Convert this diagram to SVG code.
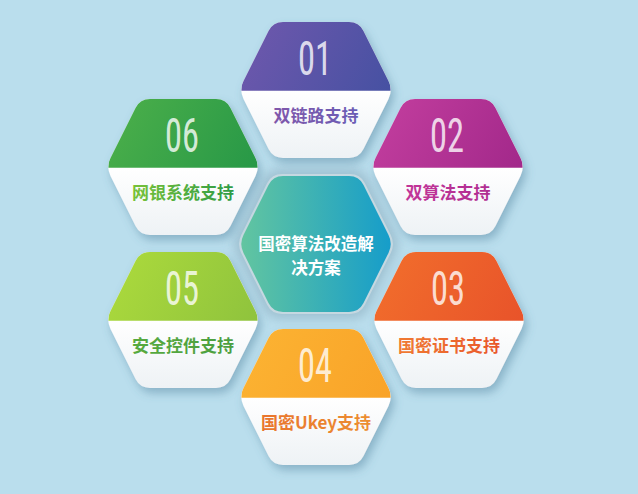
<svg xmlns="http://www.w3.org/2000/svg" xmlns:xlink="http://www.w3.org/1999/xlink" width="638" height="494" viewBox="0 0 638 494">
  <defs>
    <path id="hex" d="M -33,-68 L 33,-68 Q 43,-68 47.5,-59.1 L 72.5,-8.9 Q 77,0 72.5,8.9 L 47.5,59.1 Q 43,68 33,68 L -33,68 Q -43,68 -47.5,59.1 L -72.5,8.9 Q -77,0 -72.5,-8.9 L -47.5,-59.1 Q -43,-68 -33,-68 Z"/>
    <clipPath id="top" clipPathUnits="objectBoundingBox">
      <rect x="0" y="0" width="1" height="0.506"/>
    </clipPath>
    <filter id="sh" x="-25%" y="-25%" width="150%" height="160%">
      <feDropShadow dx="3" dy="5" stdDeviation="5" flood-color="#4b7d97" flood-opacity="0.45"/>
    </filter>
    <filter id="halo" x="-30%" y="-30%" width="160%" height="160%">
      <feGaussianBlur stdDeviation="5"/>
    </filter>
    <linearGradient id="white" x1="0" y1="0" x2="0" y2="1">
      <stop offset="0.5" stop-color="#ffffff"/>
      <stop offset="1" stop-color="#eef2f5"/>
    </linearGradient>
    <linearGradient id="g01" x1="0" y1="0" x2="1" y2="0.5">
      <stop offset="0" stop-color="#7058ad"/>
      <stop offset="1" stop-color="#4651a2"/>
    </linearGradient>
    <linearGradient id="g02" x1="0" y1="0" x2="1" y2="0.5">
      <stop offset="0" stop-color="#c43f9f"/>
      <stop offset="1" stop-color="#a2288a"/>
    </linearGradient>
    <linearGradient id="g03" x1="0" y1="0" x2="1" y2="0.5">
      <stop offset="0" stop-color="#f26f2c"/>
      <stop offset="1" stop-color="#e8532a"/>
    </linearGradient>
    <linearGradient id="g04" x1="0" y1="0" x2="1" y2="0.5">
      <stop offset="0" stop-color="#fcb433"/>
      <stop offset="1" stop-color="#f9a328"/>
    </linearGradient>
    <linearGradient id="g05" x1="0" y1="0" x2="1" y2="0.5">
      <stop offset="0" stop-color="#addb3c"/>
      <stop offset="1" stop-color="#8fc33d"/>
    </linearGradient>
    <linearGradient id="g06" x1="0" y1="0" x2="1" y2="0.5">
      <stop offset="0" stop-color="#4db04a"/>
      <stop offset="1" stop-color="#279847"/>
    </linearGradient>
    <linearGradient id="gc" x1="0" y1="0" x2="1" y2="0">
      <stop offset="0" stop-color="#62c5a0"/>
      <stop offset="1" stop-color="#169dca"/>
    </linearGradient>
    <linearGradient id="t01" x1="0" y1="0" x2="1" y2="0">
      <stop offset="0" stop-color="#8057ab"/>
      <stop offset="1" stop-color="#6a5db5"/>
    </linearGradient>
    <linearGradient id="t02" x1="0" y1="0" x2="1" y2="0">
      <stop offset="0" stop-color="#c23598"/>
      <stop offset="1" stop-color="#b02e92"/>
    </linearGradient>
    <linearGradient id="t03" x1="0" y1="0" x2="1" y2="0">
      <stop offset="0" stop-color="#f07a32"/>
      <stop offset="1" stop-color="#e9572b"/>
    </linearGradient>
    <linearGradient id="t04" x1="0" y1="0" x2="1" y2="0">
      <stop offset="0" stop-color="#e9752d"/>
      <stop offset="1" stop-color="#ec8e31"/>
    </linearGradient>
    <linearGradient id="t05" x1="0" y1="0" x2="1" y2="0">
      <stop offset="0" stop-color="#57aa3e"/>
      <stop offset="1" stop-color="#4c9f40"/>
    </linearGradient>
    <linearGradient id="t06" x1="0" y1="0" x2="1" y2="0">
      <stop offset="0" stop-color="#78c23a"/>
      <stop offset="1" stop-color="#2f9b45"/>
    </linearGradient>
    <style>
      .base { fill: url(#white); filter: url(#sh); }
      .num { font-family: "Roboto Condensed", "Roboto", "Liberation Sans", sans-serif; font-weight: 400; font-size: 49px; fill: #ffffff; fill-opacity: 0.8; text-anchor: middle; }
      .lbl { font-family: "Noto Sans CJK SC", "Noto Sans", sans-serif; font-weight: 700; font-size: 17px; text-anchor: middle; }
      .ctr { font-family: "Noto Sans CJK SC", "Noto Sans", sans-serif; font-weight: 700; font-size: 16.5px; text-anchor: middle; fill: #ffffff; }
    </style>
  </defs>

  <rect width="638" height="494" fill="#badeed"/>

  <g id="node-center" transform="translate(316,244)">
    <use href="#hex" transform="scale(1.1)" fill="#93b4c5" opacity="0.7" filter="url(#halo)"/>
    <use href="#hex" fill="#c5d8e1" transform="scale(1.03)"/>
    <use href="#hex" fill="url(#gc)"/>
    <text class="ctr" x="0" y="6">国密算法改造解</text>
    <text class="ctr" x="0" y="30">决方案</text>
  </g>

  <g id="node-01" transform="translate(316,90)">
    <use href="#hex" class="base"/>
    <use href="#hex" fill="url(#g01)" clip-path="url(#top)"/>
    <text class="num" x="-1" y="-15" textLength="34" lengthAdjust="spacingAndGlyphs">01</text>
    <text class="lbl" x="0" y="32" fill="url(#t01)">双链路支持</text>
  </g>

  <g id="node-02" transform="translate(448,167)">
    <use href="#hex" class="base"/>
    <use href="#hex" fill="url(#g02)" clip-path="url(#top)"/>
    <text class="num" x="-1" y="-15" textLength="34" lengthAdjust="spacingAndGlyphs">02</text>
    <text class="lbl" x="0" y="32" fill="url(#t02)">双算法支持</text>
  </g>

  <g id="node-03" transform="translate(449,320)">
    <use href="#hex" class="base"/>
    <use href="#hex" fill="url(#g03)" clip-path="url(#top)"/>
    <text class="num" x="-1" y="-15" textLength="34" lengthAdjust="spacingAndGlyphs">03</text>
    <text class="lbl" x="0" y="32" fill="url(#t03)">国密证书支持</text>
  </g>

  <g id="node-04" transform="translate(316,397)">
    <use href="#hex" class="base"/>
    <use href="#hex" fill="url(#g04)" clip-path="url(#top)"/>
    <text class="num" x="-1" y="-15" textLength="34" lengthAdjust="spacingAndGlyphs">04</text>
    <text class="lbl" x="0" y="32" fill="url(#t04)">国密Ukey支持</text>
  </g>

  <g id="node-05" transform="translate(183,320)">
    <use href="#hex" class="base"/>
    <use href="#hex" fill="url(#g05)" clip-path="url(#top)"/>
    <text class="num" x="-1" y="-15" textLength="34" lengthAdjust="spacingAndGlyphs">05</text>
    <text class="lbl" x="0" y="32" fill="url(#t05)">安全控件支持</text>
  </g>

  <g id="node-06" transform="translate(183,167)">
    <use href="#hex" class="base"/>
    <use href="#hex" fill="url(#g06)" clip-path="url(#top)"/>
    <text class="num" x="-1" y="-15" textLength="34" lengthAdjust="spacingAndGlyphs">06</text>
    <text class="lbl" x="0" y="32" fill="url(#t06)">网银系统支持</text>
  </g>
</svg>
